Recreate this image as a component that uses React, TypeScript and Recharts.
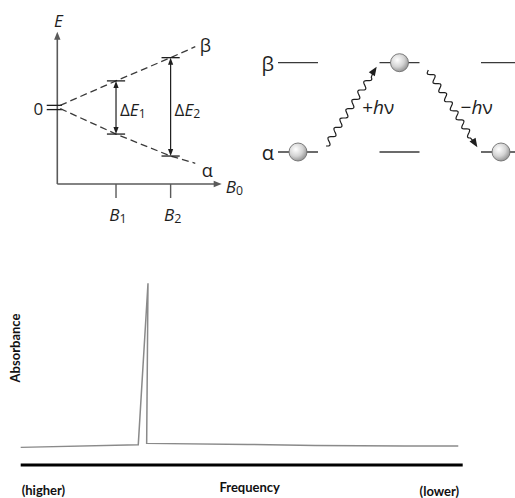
import React from 'react';
import {
  LineChart,
  Line,
  XAxis,
  YAxis,
  ReferenceLine,
  ReferenceDot,
  ComposedChart,
  Scatter,
} from 'recharts';

// ---------- Zeeman splitting diagram (top left) ----------
const FIELD = [0.05, 1, 1.93, 2.35];
const BETA_E = [0.05, 1.03, 1.96, 2.4];
const ALPHA_E = [-0.08, -1.1, -1.98, -2.27];
const FIELD_TICKS = [1, 1.93];
const FIELD_TICK_SUBS = ['1', '2'];
const GAP_INDEX = [1, 2];
const GAP_SUBS = ['1', '2'];

// ---------- Transition diagram (top right) ----------
const COLUMNS = [0, 1, 2];
const LEVELS = [0, 1];
const LEVEL_NAMES = ['α', 'β'];
const BALL_LEVEL = [0, 1, 0];
const PHOTON_FROM_X = [0.276, 1.284];
const PHOTON_FROM_Y = [0.067, 0.918];
const PHOTON_TO_X = [0.775, 1.767];
const PHOTON_TO_Y = [0.955, 0.053];
const PHOTON_SIGN = ['+', '−'];
const PHOTON_LABEL_X = [0.79, 1.76];

// ---------- Absorption spectrum (bottom) ----------
const FREQ = [0, 26.6, 28.8, 28.5, 51.4, 66.6, 86.9, 99];
const ABSORB = [9.7, 11.2, 100, 11.9, 11.3, 10.8, 10.5, 10.5];
const FREQ_TICKS = [0, 100];
const FREQ_TICK_LABELS = ['(higher)', '(lower)'];

const zeemanData = FIELD.map((b, i) => ({ b, beta: BETA_E[i], alpha: ALPHA_E[i] }));
const balls = COLUMNS.map((c, i) => ({ col: c, level: BALL_LEVEL[i] }));
const spectrum = FREQ.map((f, i) => ({ f, a: ABSORB[i] }));

const TOP_FONT = "'Open Sans', 'DejaVu Sans', sans-serif";
const INK = '#1e1e1e';
const AX = '#5a5a5a';

const head = (x: number, y: number, ux: number, uy: number, len: number, hw: number, fill: string) => {
  const bx = x - ux * len;
  const by = y - uy * len;
  const nx = -uy;
  const ny = ux;
  return (
    <polygon
      points={`${x},${y} ${bx + nx * hw},${by + ny * hw} ${bx - nx * hw},${by - ny * hw}`}
      fill={fill}
    />
  );
};

const arrowShape = (both: boolean, color: string, width: number, len: number, hw: number) => (p: any) => {
  const { x1, y1, x2, y2 } = p;
  const L = Math.hypot(x2 - x1, y2 - y1) || 1;
  const ux = (x2 - x1) / L;
  const uy = (y2 - y1) / L;
  const sx = both ? x1 + ux * len * 0.8 : x1;
  const sy = both ? y1 + uy * len * 0.8 : y1;
  const ex = x2 - ux * len * 0.8;
  const ey = y2 - uy * len * 0.8;
  return (
    <g>
      <line x1={sx} y1={sy} x2={ex} y2={ey} stroke={color} strokeWidth={width} />
      {head(x2, y2, ux, uy, len, hw, color)}
      {both ? head(x1, y1, -ux, -uy, len, hw, color) : null}
    </g>
  );
};

const waveShape = (p: any) => {
  const { x1, y1, x2, y2 } = p;
  const L = Math.hypot(x2 - x1, y2 - y1) || 1;
  const ux = (x2 - x1) / L;
  const uy = (y2 - y1) / L;
  const nx = -uy;
  const ny = ux;
  const headLen = 9;
  const waveLen = L - headLen - 2;
  const lambda = waveLen / 7.5;
  const amp = 2.8;
  let d = '';
  for (let t = 0; t <= waveLen; t += 0.8) {
    const o = amp * Math.sin((2 * Math.PI * t) / lambda);
    const px = x1 + ux * t + nx * o;
    const py = y1 + uy * t + ny * o;
    d += (t === 0 ? 'M' : 'L') + px.toFixed(2) + ',' + py.toFixed(2);
  }
  d += `L${(x2 - ux * headLen * 0.7).toFixed(2)},${(y2 - uy * headLen * 0.7).toFixed(2)}`;
  return (
    <g>
      <path d={d} fill="none" stroke={INK} strokeWidth={1.2} />
      {head(x2, y2, ux, uy, headLen, 3.6, INK)}
    </g>
  );
};

type Part = { t: string; italic?: boolean; sub?: boolean };

const richText = (parts: Part[], size = 17, anchor: 'start' | 'middle' | 'end' = 'middle', dx = 0, dy = 0) =>
  (p: any) => (
    <text
      x={p.cx + dx}
      y={p.cy + dy}
      textAnchor={anchor}
      dominantBaseline="central"
      fontFamily={TOP_FONT}
      fontSize={size}
      fill={INK}
    >
      {parts.map((part, i) => (
        <tspan
          key={i}
          fontStyle={part.italic ? 'italic' : 'normal'}
          fontSize={part.sub ? size * 0.72 : size}
          dy={part.sub ? 4 : 0}
        >
          {part.t}
        </tspan>
      ))}
    </text>
  );

const FieldTick = (p: any) => {
  const { x, y, index } = p;
  return (
    <text
      x={x + 2}
      y={y + 14}
      textAnchor="middle"
      dominantBaseline="central"
      fontFamily={TOP_FONT}
      fontSize={17}
      fill={INK}
    >
      <tspan fontStyle="italic">B</tspan>
      <tspan fontSize={12.5} dy={4}>
        {FIELD_TICK_SUBS[index]}
      </tspan>
    </text>
  );
};

const Ball = (p: any) => (
  <circle cx={p.cx} cy={p.cy} r={9} fill="url(#ballGrad)" stroke="#6f6f6f" strokeWidth={0.9} />
);

const SpecTick = (p: any) => {
  const { x, y, index } = p;
  const first = index === 0;
  return (
    <text
      x={first ? x + 1 : x - 3.5}
      y={y + (first ? 17 : 18)}
      textAnchor={first ? 'start' : 'end'}
      dominantBaseline="central"
      fontFamily="Lato, sans-serif"
      fontWeight={700}
      fontSize={13}
      fill="#111"
    >
      {FREQ_TICK_LABELS[index]}
    </text>
  );
};

const FreqLabel = (p: any) => {
  const vb = p.viewBox || { x: 0, y: 0, width: 0, height: 0 };
  return (
    <text
      x={vb.x + vb.width / 2 + 8}
      y={vb.y + 21.7}
      textAnchor="middle"
      dominantBaseline="central"
      fontFamily="Lato, sans-serif"
      fontWeight={700}
      fontSize={13}
      fill="#111"
    >
      Frequency
    </text>
  );
};

const AbsLabel = (p: any) => {
  const vb = p.viewBox || { x: 0, y: 0, width: 0, height: 0 };
  const cx = vb.x + 15;
  const cy = vb.y + 64.7;
  return (
    <text
      x={cx}
      y={cy}
      transform={`rotate(-90 ${cx} ${cy})`}
      textAnchor="middle"
      dominantBaseline="central"
      fontFamily="Lato, sans-serif"
      fontWeight={700}
      fontSize={13}
      fill="#111"
    >
      Absorbance
    </text>
  );
};

export default function App() {
  return (
    <div
      style={{
        position: 'absolute',
        left: 0,
        top: 0,
        width: 515,
        height: 498,
        overflow: 'hidden',
        background: '#fff',
      }}
    >
      {/* Zeeman diagram */}
      <div style={{ position: 'absolute', left: 0, top: 0 }}>
        <LineChart
          width={260}
          height={230}
          data={zeemanData}
          margin={{ top: 31.7, right: 38.3, bottom: 16, left: 57.3 }}
        >
          <XAxis
            type="number"
            dataKey="b"
            domain={[0, 2.8]}
            ticks={FIELD_TICKS}
            interval={0}
            tick={<FieldTick />}
            tickSize={14}
            tickLine={{ stroke: AX, strokeWidth: 1.4 }}
            axisLine={false}
            height={30}
          />
          <YAxis type="number" domain={[-3.1, 3.0]} hide />
          <ReferenceLine
            segment={[{ x: 0, y: -3.1 }, { x: 2.8, y: -3.1 }]}
            ifOverflow="visible"
            shape={arrowShape(false, AX, 1.6, 8, 3.2)}
          />
          <ReferenceLine
            segment={[{ x: 0, y: -3.1 }, { x: 0, y: 3.0 }]}
            ifOverflow="visible"
            shape={arrowShape(false, AX, 1.6, 8, 3.2)}
          />
          <ReferenceLine
            segment={[{ x: -0.18, y: 0.05 }, { x: 0.08, y: 0.05 }]}
            ifOverflow="visible"
            stroke={INK}
            strokeWidth={1.3}
          />
          <ReferenceLine
            segment={[{ x: -0.18, y: -0.12 }, { x: 0.08, y: -0.12 }]}
            ifOverflow="visible"
            stroke={INK}
            strokeWidth={1.3}
          />
          <Line
            dataKey="beta"
            stroke="#3a3a3a"
            strokeWidth={1.3}
            strokeDasharray="7 4"
            dot={false}
            isAnimationActive={false}
          />
          <Line
            dataKey="alpha"
            stroke="#3a3a3a"
            strokeWidth={1.3}
            strokeDasharray="7 4"
            dot={false}
            isAnimationActive={false}
          />
          {GAP_INDEX.map((gi) => (
            <ReferenceLine
              key={'tb' + gi}
              segment={[{ x: FIELD[gi] - 0.155, y: BETA_E[gi] }, { x: FIELD[gi] + 0.155, y: BETA_E[gi] }]}
              ifOverflow="visible"
              stroke={INK}
              strokeWidth={1.3}
            />
          ))}
          {GAP_INDEX.map((gi) => (
            <ReferenceLine
              key={'ta' + gi}
              segment={[{ x: FIELD[gi] - 0.155, y: ALPHA_E[gi] }, { x: FIELD[gi] + 0.155, y: ALPHA_E[gi] }]}
              ifOverflow="visible"
              stroke={INK}
              strokeWidth={1.3}
            />
          ))}
          {GAP_INDEX.map((gi) => (
            <ReferenceLine
              key={'ar' + gi}
              segment={[{ x: FIELD[gi], y: BETA_E[gi] }, { x: FIELD[gi], y: ALPHA_E[gi] }]}
              ifOverflow="visible"
              shape={arrowShape(true, INK, 1.2, 7, 2.6)}
            />
          ))}
          {GAP_INDEX.map((gi, k) => (
            <ReferenceDot
              key={'gl' + gi}
              x={FIELD[gi]}
              y={(BETA_E[gi] + ALPHA_E[gi]) / 2}
              r={0}
              ifOverflow="visible"
              shape={richText(
                [{ t: 'Δ' }, { t: 'E', italic: true }, { t: GAP_SUBS[k], sub: true }],
                17,
                'start',
                4,
                2
              )}
            />
          ))}
          <ReferenceDot x={0} y={0} r={0} ifOverflow="visible" shape={richText([{ t: '0' }], 17, 'middle', -19, 1)} />
          <ReferenceDot x={0} y={3.0} r={0} ifOverflow="visible" shape={richText([{ t: 'E', italic: true }], 17, 'middle', 1, -12)} />
          <ReferenceDot
            x={2.8}
            y={-3.1}
            r={0}
            ifOverflow="visible"
            shape={richText([{ t: 'B', italic: true }, { t: '0', sub: true }], 17, 'start', 4, 2)}
          />
          <ReferenceDot
            x={FIELD[3]}
            y={BETA_E[3]}
            r={0}
            ifOverflow="visible"
            shape={richText([{ t: 'β' }], 18, 'middle', 10, -2)}
          />
          <ReferenceDot
            x={FIELD[3]}
            y={ALPHA_E[3]}
            r={0}
            ifOverflow="visible"
            shape={richText([{ t: 'α' }], 18, 'middle', 12, 7)}
          />
        </LineChart>
      </div>

      {/* Transition diagram */}
      <div style={{ position: 'absolute', left: 240, top: 0 }}>
        <ComposedChart width={300} height={200} margin={{ top: 62.7, right: 39, bottom: 48, left: 58 }}>
          <defs>
            <radialGradient id="ballGrad" cx="38%" cy="35%" r="70%">
              <stop offset="0" stopColor="#ffffff" />
              <stop offset="0.55" stopColor="#d4d4d4" />
              <stop offset="1" stopColor="#8e8e8e" />
            </radialGradient>
          </defs>
          <XAxis type="number" dataKey="col" domain={[0, 2]} hide />
          <YAxis type="number" dataKey="level" domain={[0, 1]} hide />
          {COLUMNS.flatMap((c) =>
            LEVELS.map((l) => (
              <ReferenceLine
                key={`lv${c}-${l}`}
                segment={[{ x: c - 0.197, y: l }, { x: c + 0.197, y: l }]}
                ifOverflow="visible"
                stroke="#3a3a3a"
                strokeWidth={1.3}
              />
            ))
          )}
          {LEVELS.map((l) => (
            <ReferenceDot
              key={'ln' + l}
              x={COLUMNS[0] - 0.197}
              y={l}
              r={0}
              ifOverflow="visible"
              shape={richText([{ t: LEVEL_NAMES[l] }], 20, 'end', -4, 0)}
            />
          ))}
          {PHOTON_SIGN.map((s, i) => (
            <ReferenceLine
              key={'ph' + i}
              segment={[
                { x: PHOTON_FROM_X[i], y: PHOTON_FROM_Y[i] },
                { x: PHOTON_TO_X[i], y: PHOTON_TO_Y[i] },
              ]}
              ifOverflow="visible"
              shape={waveShape}
            />
          ))}
          {PHOTON_SIGN.map((s, i) => (
            <ReferenceDot
              key={'pl' + i}
              x={PHOTON_LABEL_X[i]}
              y={0.5}
              r={0}
              ifOverflow="visible"
              shape={richText([{ t: s }, { t: 'h', italic: true }, { t: 'ν' }], 19, 'middle', 0, 0)}
            />
          ))}
          <Scatter data={balls} dataKey="level" shape={<Ball />} isAnimationActive={false} />
        </ComposedChart>
      </div>

      {/* Absorption spectrum */}
      <div style={{ position: 'absolute', left: 0, top: 260 }}>
        <LineChart
          width={515}
          height={238}
          data={spectrum}
          margin={{ top: 23.3, right: 52.3, bottom: 0, left: 0 }}
        >
          <XAxis
            type="number"
            dataKey="f"
            domain={[0, 100]}
            ticks={FREQ_TICKS}
            interval={0}
            tick={<SpecTick />}
            tickLine={false}
            axisLine={{ stroke: '#000', strokeWidth: 3.2 }}
            height={33}
            label={<FreqLabel />}
          />
          <YAxis
            type="number"
            domain={[0, 100]}
            width={20.7}
            axisLine={false}
            tickLine={false}
            tick={false}
            label={<AbsLabel />}
          />
          <Line
            dataKey="a"
            stroke="#8a8a8a"
            strokeWidth={1.5}
            dot={false}
            isAnimationActive={false}
          />
        </LineChart>
      </div>
    </div>
  );
}
